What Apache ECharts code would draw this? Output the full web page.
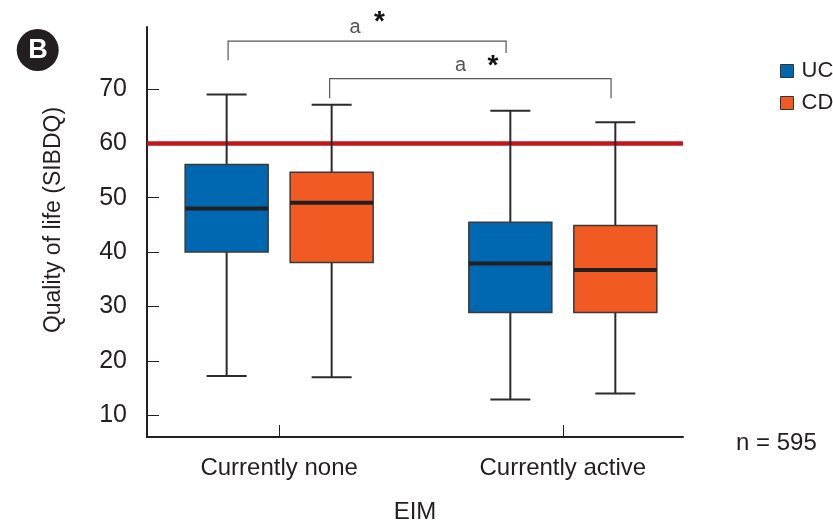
<!DOCTYPE html>
<html>
<head>
<meta charset="utf-8">
<script src="https://cdn.jsdelivr.net/npm/echarts@6/dist/echarts.min.js"></script>
<style>html,body{margin:0;padding:0;background:#fff}#c{width:833px;height:525px}</style>
</head>
<body>
<div id="c"></div>
<script>
// ---- data ----
const categories = ['Currently none', 'Currently active'];
const seriesNames = ['UC', 'CD'];
// [min, Q1, median, Q3, max]
const ucStats = [[17.2, 40.0, 48.0, 56.1, 69.0], [12.9, 28.9, 37.9, 45.5, 66.0]];
const cdStats = [[17.0, 38.1, 49.1, 54.7, 67.1], [14.0, 28.9, 36.7, 44.9, 63.9]];
const yTicks = [10, 20, 30, 40, 50, 60, 70];
const xTicks = [0, 1];
const threshold = 60;
const sampleLabel = 'n = 595';
const yTitle = 'Quality of life (SIBDQ)';
const xTitle = 'EIM';
// significance brackets: [x1, x2, yTop, yLeftEnd, yRightEnd]
const brackets = [[-0.18, 0.80, 78.8, 75.3, 76.6], [0.178, 1.17, 71.9, 68.3, 68.3]];

const FONT = "'Liberation Sans', Arial, sans-serif";
const colors = {UC: '#0067b1', CD: '#f15a22'};

function toData(stats) {
  return stats.map((s, i) => [i].concat(s));
}

function boxRenderer(offsetPx, fill) {
  return function (params, api) {
    const xi = api.value(0);
    const base = api.coord([xi, api.value(3)]);
    const cx = base[0] + offsetPx;
    const yMin = api.coord([xi, api.value(1)])[1];
    const yQ1 = api.coord([xi, api.value(2)])[1];
    const yMed = api.coord([xi, api.value(3)])[1];
    const yQ3 = api.coord([xi, api.value(4)])[1];
    const yMax = api.coord([xi, api.value(5)])[1];
    const bw = 83, cw = 40;
    const lineStyle = {stroke: '#2b2b2b', lineWidth: 2};
    return {
      type: 'group',
      children: [
        {type: 'line', shape: {x1: cx, y1: yMax, x2: cx, y2: yMin}, style: lineStyle},
        {type: 'line', shape: {x1: cx - cw / 2, y1: yMax, x2: cx + cw / 2, y2: yMax}, style: lineStyle},
        {type: 'line', shape: {x1: cx - cw / 2, y1: yMin, x2: cx + cw / 2, y2: yMin}, style: lineStyle},
        {type: 'rect', shape: {x: cx - bw / 2, y: yQ3, width: bw, height: yQ1 - yQ3},
          style: {fill: fill, stroke: '#3a3a3a', lineWidth: 1.5}},
        {type: 'line', shape: {x1: cx - bw / 2, y1: yMed, x2: cx + bw / 2, y2: yMed},
          style: {stroke: '#231f20', lineWidth: 4}}
      ]
    };
  };
}

function bracketRenderer(params, api) {
  const p1 = api.coord([api.value(0), api.value(2)]);
  const p2 = api.coord([api.value(1), api.value(2)]);
  const l = api.coord([api.value(0), api.value(3)]);
  const r = api.coord([api.value(1), api.value(4)]);
  return {
    type: 'polyline',
    shape: {points: [[l[0], l[1]], [p1[0], p1[1]], [p2[0], p2[1]], [r[0], r[1]]]},
    style: {stroke: '#555', lineWidth: 1.2, fill: null}
  };
}

const chart = echarts.init(document.getElementById('c'), null, {renderer: 'canvas'});
chart.setOption({
  animation: false,
  backgroundColor: '#fff',
  grid: {left: 147, right: 150, top: 27, bottom: 88, containLabel: false, outerBoundsMode: 'none'},
  legend: {
    data: [
      {name: 'UC', icon: 'rect', itemStyle: {color: colors.UC, borderColor: '#333', borderWidth: 1}},
      {name: 'CD', icon: 'rect', itemStyle: {color: colors.CD, borderColor: '#333', borderWidth: 1}}
    ],
    orient: 'vertical',
    left: 775, top: 55,
    itemWidth: 13, itemHeight: 13, itemGap: 10,
    textStyle: {fontFamily: FONT, fontSize: 22, color: '#231f20', padding: [0, 0, 0, 3]}
  },
  xAxis: {
    type: 'value',
    min: -0.4658, max: 1.4236,
    splitLine: {show: false},
    axisLine: {show: true, onZero: false, lineStyle: {color: '#231f20', width: 2}},
    axisTick: {show: true, inside: true, length: 12, customValues: xTicks, lineStyle: {color: '#231f20', width: 1}},
    axisLabel: {customValues: xTicks, formatter: v => categories[Math.round(v)] || '',
      fontFamily: FONT, fontSize: 24, color: '#231f20', margin: 19},
    name: xTitle, nameLocation: 'middle', nameGap: 63,
    nameTextStyle: {fontFamily: FONT, fontSize: 24, color: '#231f20'}
  },
  yAxis: {
    type: 'value',
    min: 6, max: 81.4,
    splitLine: {show: false},
    axisLine: {show: true, onZero: false, lineStyle: {color: '#231f20', width: 2}},
    axisTick: {show: true, inside: true, length: 12, customValues: yTicks, lineStyle: {color: '#231f20', width: 1}},
    axisLabel: {customValues: yTicks, fontFamily: FONT, fontSize: 25, color: '#231f20', margin: 20}
  },
  series: [
    {
      name: 'UC', type: 'custom', z: 3,
      itemStyle: {color: colors.UC},
      renderItem: boxRenderer(-52.5, colors.UC),
      encode: {x: 0, y: [1, 2, 3, 4, 5]},
      data: toData(ucStats)
    },
    {
      name: 'CD', type: 'custom', z: 3,
      itemStyle: {color: colors.CD},
      renderItem: boxRenderer(52.5, colors.CD),
      encode: {x: 0, y: [1, 2, 3, 4, 5]},
      data: toData(cdStats)
    },
    {
      name: 'threshold', type: 'custom', z: 1, silent: true,
      renderItem: () => ({type: 'group', children: []}),
      data: [[0, threshold]],
      markLine: {
        silent: true, symbol: 'none', z: 1,
        label: {show: false},
        lineStyle: {color: '#c0161e', width: 4.5, type: 'solid'},
        data: [{yAxis: threshold}]
      }
    },
    {
      name: 'brackets', type: 'custom', silent: true, clip: false,
      renderItem: bracketRenderer,
      encode: {x: [0, 1], y: [2, 3, 4]},
      data: brackets
    }
  ],
  graphic: [
    {type: 'circle', shape: {cx: 37.7, cy: 50, r: 21}, style: {fill: '#231f20'}},
    {type: 'text', style: {x: 38, y: 51, text: 'B', fontFamily: FONT, fontWeight: 'bold', fontSize: 27,
      fill: '#fff', align: 'center', verticalAlign: 'middle'}},
    {type: 'text', rotation: Math.PI / 2, x: 54, y: 220,
      style: {text: yTitle, fontFamily: FONT, fontSize: 23, fill: '#231f20', align: 'center', verticalAlign: 'middle'}},
    {type: 'text', style: {x: 736, y: 443, text: sampleLabel, fontFamily: FONT, fontSize: 24, fill: '#231f20',
      align: 'left', verticalAlign: 'middle'}},
    {type: 'text', style: {x: 355, y: 27, text: 'a', fontFamily: FONT, fontSize: 20, fill: '#555', align: 'center', verticalAlign: 'middle'}},
    {type: 'text', style: {x: 379.5, y: 22, text: '*', fontFamily: FONT, fontWeight: 'bold', fontSize: 28, fill: '#111', align: 'center', verticalAlign: 'middle'}},
    {type: 'text', style: {x: 460.5, y: 65, text: 'a', fontFamily: FONT, fontSize: 20, fill: '#555', align: 'center', verticalAlign: 'middle'}},
    {type: 'text', style: {x: 493, y: 66, text: '*', fontFamily: FONT, fontWeight: 'bold', fontSize: 28, fill: '#111', align: 'center', verticalAlign: 'middle'}}
  ]
});
</script>
</body>
</html>
